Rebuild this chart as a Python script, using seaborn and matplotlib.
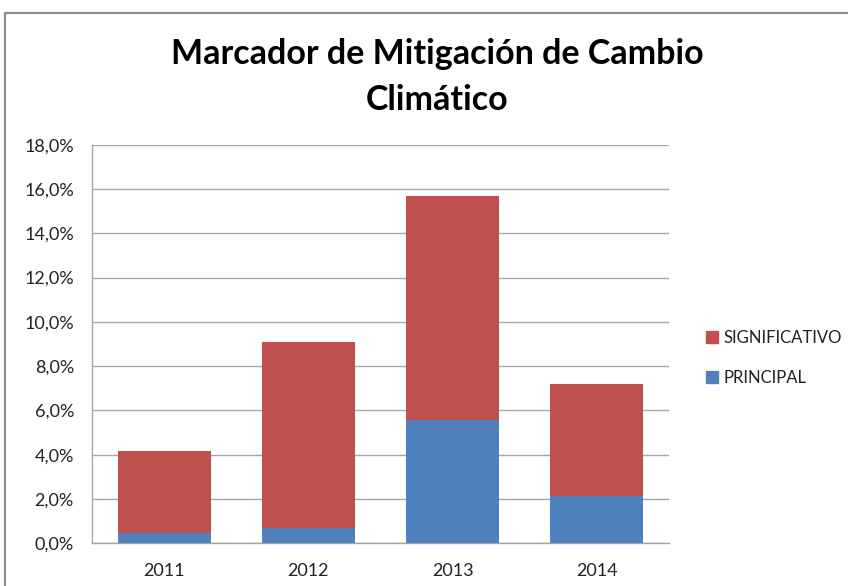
import matplotlib
matplotlib.use("Agg")
import matplotlib.pyplot as plt
import seaborn as sns
import pandas as pd
from matplotlib.patches import Patch, Rectangle
from matplotlib.ticker import FuncFormatter

years = ["2011", "2012", "2013", "2014"]
principal = [0.45, 0.68, 5.55, 2.14]
significativo = [3.72, 8.42, 10.14, 5.05]
title = "Marcador de Mitigación de Cambio\nClimático"
y_ticks = [0, 2, 4, 6, 8, 10, 12, 14, 16, 18]

total = [p + s for p, s in zip(principal, significativo)]
df = pd.DataFrame({"year": years, "principal": principal, "total": total})

sns.set_theme(style="white")
plt.rcParams['font.family'] = ['Lato', 'DejaVu Sans']

red = "#C0504D"
blue = "#4F81BD"

fig = plt.figure(figsize=(8.48, 5.86), dpi=100)
ax = fig.add_axes([92/848, 1 - 543.3/586, 577/848, (543.3 - 144.7)/586])

sns.barplot(data=df, x="year", y="total", color=red, saturation=1, width=0.646, ax=ax,
            zorder=3, linewidth=0)
sns.barplot(data=df, x="year", y="principal", color=blue, saturation=1, width=0.646, ax=ax,
            zorder=3, linewidth=0)

ax.set_xlim(-0.5, 3.5)
ax.set_ylim(0, 18)
ax.set_yticks(y_ticks)
ax.yaxis.set_major_formatter(FuncFormatter(lambda v, p: f"{v:.1f}%".replace(".", ",")))
ax.grid(axis="y", color="#a6a6a6", linewidth=1.0, zorder=0)
ax.set_axisbelow(True)
ax.set_xlabel("")
ax.set_ylabel("")
for s in ["top", "right"]:
    ax.spines[s].set_visible(False)
for s in ["left", "bottom"]:
    ax.spines[s].set_visible(True)
    ax.spines[s].set_color("#a6a6a6")
    ax.spines[s].set_linewidth(1.0)
ax.tick_params(axis="both", length=0, labelsize=13, colors="#222222")
ax.tick_params(axis="y", pad=13)
ax.tick_params(axis="x", pad=14)

fig.text(437/848, 1 - 77/586, title, ha="center", va="center", fontsize=24.5,
         fontweight="bold", color="black", linespacing=1.55)

handles = [Patch(facecolor=red, edgecolor=red, label="SIGNIFICATIVO"),
           Patch(facecolor=blue, edgecolor=blue, label="PRINCIPAL")]
fig.legend(handles=handles, loc="center left", bbox_to_anchor=(691/848, 1 - 358/586),
           frameon=False, fontsize=12, handlelength=0.7, handleheight=0.7,
           handletextpad=0.35, labelspacing=1.45, labelcolor="#222222")

fig.patches.append(Rectangle((5/848, -0.01), 1.0, 1 - 13/586 + 0.01, transform=fig.transFigure,
                             fill=False, edgecolor="#8c8c8c", linewidth=1.5))

fig.savefig("out.png", dpi=100)
